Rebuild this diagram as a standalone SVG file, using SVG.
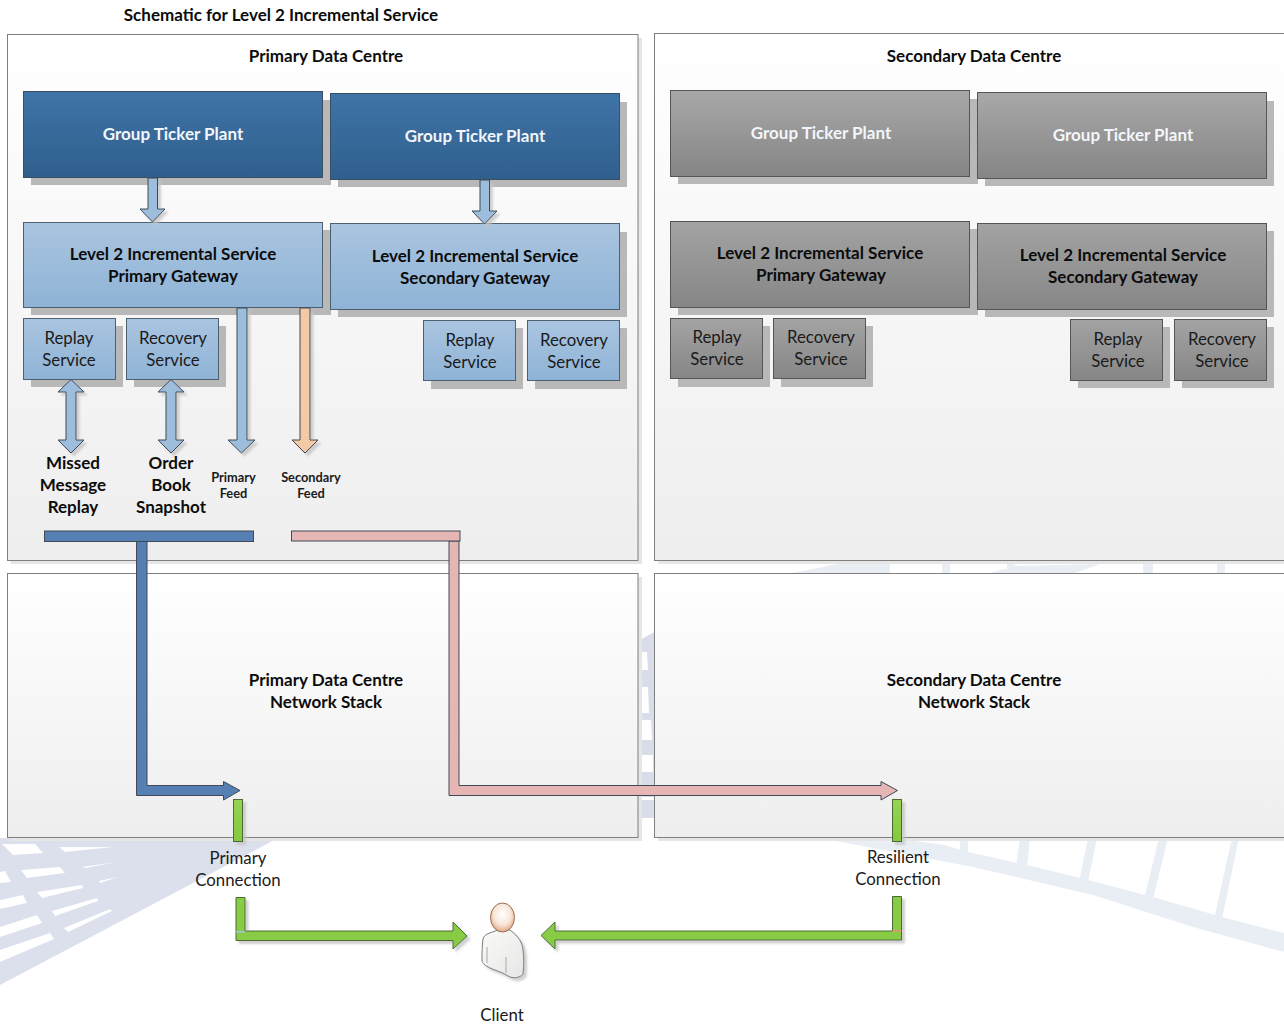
<svg xmlns="http://www.w3.org/2000/svg" width="1284" height="1025" viewBox="0 0 1284 1025">
<defs>
<linearGradient id="gDC" x1="0" y1="0" x2="0" y2="1"><stop offset="0" stop-color="#ffffff"/><stop offset="1" stop-color="#eeeeee"/></linearGradient>
<linearGradient id="gDark" x1="0" y1="0" x2="0" y2="1"><stop offset="0" stop-color="#3f74a8"/><stop offset="1" stop-color="#2f5f8c"/></linearGradient>
<linearGradient id="gLight" x1="0" y1="0" x2="0" y2="1"><stop offset="0" stop-color="#a9c5e0"/><stop offset="1" stop-color="#8fb3d6"/></linearGradient>
<linearGradient id="gGrey" x1="0" y1="0" x2="0" y2="1"><stop offset="0" stop-color="#a8a8a8"/><stop offset="1" stop-color="#858585"/></linearGradient>
<linearGradient id="gGrey2" x1="0" y1="0" x2="0" y2="1"><stop offset="0" stop-color="#a3a3a3"/><stop offset="1" stop-color="#868686"/></linearGradient>
<linearGradient id="gGreen" x1="0" y1="0" x2="0" y2="1"><stop offset="0" stop-color="#96d352"/><stop offset="1" stop-color="#84c93f"/></linearGradient>
<radialGradient id="gHead" cx=".5" cy=".4" r=".65"><stop offset="0" stop-color="#ffffff"/><stop offset=".55" stop-color="#f8e6d9"/><stop offset="1" stop-color="#dc9a70"/></radialGradient>
<linearGradient id="gBody" x1="0" y1="0" x2="1" y2="1"><stop offset="0" stop-color="#fafaf7"/><stop offset="1" stop-color="#e6e6e6"/></linearGradient>
<filter id="sh" x="-20%" y="-20%" width="140%" height="140%"><feDropShadow dx="3" dy="3" stdDeviation="1" flood-color="#c4c4c4" flood-opacity=".8"/></filter>
</defs>
<style>
text{font-family:"Lato","Liberation Sans",sans-serif;text-anchor:middle;font-size:16.800px;fill:#1a1a1a}
.b{font-weight:700;font-size:17px;fill:#0c0c0c}
.w{fill:#f2f6fa;font-weight:700;font-size:17px}
.sm{font-size:12.800px;font-weight:700}
.dc{fill:url(#gDC);stroke:#7f7f7f;stroke-width:1}
.dcs{fill:#e6e6e6}
.dark{fill:url(#gDark);stroke:#3c4f60;stroke-width:1}
.light{fill:url(#gLight);stroke:#4d6072;stroke-width:1}
.grey{fill:url(#gGrey);stroke:#555;stroke-width:1}
.grey2{fill:url(#gGrey2);stroke:#555;stroke-width:1}
.sh{fill:#b8b8b8}
.ar{stroke:#3f4a55;stroke-width:1}
.blue{fill:#9dbddc}.peach{fill:#f4caa6}.navy{fill:#5680b4}.pink{fill:#e6b6b4}
.green{fill:url(#gGreen);stroke:#4c6b35;stroke-width:1}
.greenf{fill:#88cc44;stroke:#4c6b35;stroke-width:1}
.bg{fill:#dcdfec}.bg2{fill:#e9eef5}.bg3{fill:#d8dde9}.win{fill:#fff}
</style>
<rect width="1284" height="1025" fill="#fff"/>
<g id="background">
<path class="bg" d="M0 838H278L0 985Z"/>
<path class="win" d="M2 844L35 844 43 853 13 855ZM59 847L113 847 65 852ZM21 870L60 867 65 873 27 878ZM82 867L117 862 86 868ZM0 872L5 871 11 882 0 883ZM37 892L82 885 83 888 42 898ZM99 881L118 877 100 883ZM0 900L23 895 27 903 0 909ZM52 911L97 898 98 901 55 916ZM0 927L37 915 42 923 0 937ZM64 928L110 909 112 911 68 932ZM0 950L50 933 54 939 0 962Z"/>
<path class="bg3" d="M640 640L654 632V818H640Z"/>
<path class="win" d="M640 652H647L648 670H640ZM640 687H648L649 713H640ZM640 720H651L652 740H640ZM640 755H653V772H640ZM640 800H654V797H640Z"/>
<path class="bg2" d="M792 573L853 561H890V573ZM882 561H890V573H882ZM942 561H950V573H942ZM1007 561H1015V573H1007ZM990 573L1015 566 1100 564 1075 573ZM1143 561H1153V573H1143ZM1217 561H1225V573H1217Z"/>
<path class="bg2" d="M820 838H893L945 845 968 852 1027 865 1088 880 1153 897 1222 917 1284 933V952L1193 927 1093 895 973 867Z"/>
<path class="bg2" d="M960 838H968L968 852H960ZM1020 838H1030L1027 866H1016ZM1088 838H1097L1088 882H1079ZM1159 838H1168L1153 899H1144ZM1232 838H1239L1222 919H1214Z"/>
</g>
<g id="primary-dc"><rect class="dcs" x="11" y="38" width="631" height="526"/><rect class="dc" x="7.500" y="34.500" width="630.500" height="526"/><text class="b" x="326" y="62">Primary Data Centre</text></g>
<g id="secondary-dc"><rect class="dcs" x="658" y="37" width="640" height="527"/><rect class="dc" x="654.500" y="33.500" width="640" height="527"/><text class="b" x="974" y="62">Secondary Data Centre</text></g>
<g id="primary-stack"><rect class="dcs" x="11" y="577" width="631" height="264"/><rect class="dc" x="7.500" y="573.500" width="630.500" height="264"/><text class="b" x="326" y="686">Primary Data Centre</text><text class="b" x="326" y="708">Network Stack</text></g>
<g id="secondary-stack"><rect class="dcs" x="658" y="577" width="640" height="264"/><rect class="dc" x="654.500" y="573.500" width="640" height="264"/><text class="b" x="974" y="686">Secondary Data Centre</text><text class="b" x="974" y="708">Network Stack</text></g>
<text id="title" class="b" x="281" y="21">Schematic for Level 2 Incremental Service</text>
<g id="gtp-1"><rect class="sh" x="31" y="100" width="300" height="85"/><rect class="dark" x="23.500" y="91.500" width="299" height="86"/><text class="w" x="173" y="140">Group Ticker Plant</text></g>
<g id="gtp-2"><rect class="sh" x="338" y="102" width="289" height="85"/><rect class="dark" x="330.500" y="93.500" width="289" height="86"/><text class="w" x="475" y="142">Group Ticker Plant</text></g>
<g id="gtp-3"><rect class="sh" x="678" y="99" width="300" height="85"/><rect class="grey" x="670.500" y="90.500" width="299" height="86"/><text class="w" x="821" y="139">Group Ticker Plant</text></g>
<g id="gtp-4"><rect class="sh" x="985" y="101" width="289" height="85"/><rect class="grey" x="977.500" y="92.500" width="289" height="86"/><text class="w" x="1123" y="141">Group Ticker Plant</text></g>
<g id="gw-1"><rect class="sh" x="31" y="230" width="300" height="85"/><rect class="light" x="23.500" y="222.500" width="299" height="85"/><text class="b" x="173" y="260">Level 2 Incremental Service</text><text class="b" x="173" y="282">Primary Gateway</text></g>
<g id="gw-2"><rect class="sh" x="338" y="232" width="289" height="85"/><rect class="light" x="330.500" y="223.500" width="289" height="86"/><text class="b" x="475" y="262">Level 2 Incremental Service</text><text class="b" x="475" y="284">Secondary Gateway</text></g>
<g id="gw-3"><rect class="sh" x="678" y="229" width="300" height="86"/><rect class="grey2" x="670.500" y="221.500" width="299" height="86"/><text class="b" x="820" y="259">Level 2 Incremental Service</text><text class="b" x="821" y="281">Primary Gateway</text></g>
<g id="gw-4"><rect class="sh" x="985" y="231" width="289" height="86"/><rect class="grey2" x="977.500" y="223.500" width="289" height="86"/><text class="b" x="1123" y="261">Level 2 Incremental Service</text><text class="b" x="1123" y="283">Secondary Gateway</text></g>
<g id="rep-1"><rect class="sh" x="31" y="326" width="92" height="61"/><rect class="light" x="23.500" y="318.500" width="92" height="61"/><text x="69" y="344">Replay</text><text x="69" y="366">Service</text></g>
<g id="rec-1"><rect class="sh" x="134" y="326" width="92" height="61"/><rect class="light" x="126.500" y="318.500" width="92" height="61"/><text x="173" y="344">Recovery</text><text x="173" y="366">Service</text></g>
<g id="rep-2"><rect class="sh" x="431" y="328" width="92" height="61"/><rect class="light" x="423.500" y="320.500" width="92" height="60"/><text x="470" y="346">Replay</text><text x="470" y="368">Service</text></g>
<g id="rec-2"><rect class="sh" x="535" y="328" width="92" height="61"/><rect class="light" x="527.500" y="320.500" width="92" height="60"/><text x="574" y="346">Recovery</text><text x="574" y="368">Service</text></g>
<g id="rep-3"><rect class="sh" x="678" y="326" width="92" height="61"/><rect class="grey2" x="670.500" y="318.500" width="92" height="60"/><text x="717" y="343">Replay</text><text x="717" y="365">Service</text></g>
<g id="rec-3"><rect class="sh" x="781" y="326" width="92" height="61"/><rect class="grey2" x="773.500" y="318.500" width="92" height="60"/><text x="821" y="343">Recovery</text><text x="821" y="365">Service</text></g>
<g id="rep-4"><rect class="sh" x="1078" y="327" width="92" height="61"/><rect class="grey2" x="1070.500" y="319.500" width="92" height="61"/><text x="1118" y="345">Replay</text><text x="1118" y="367">Service</text></g>
<g id="rec-4"><rect class="sh" x="1182" y="327" width="92" height="61"/><rect class="grey2" x="1174.500" y="319.500" width="92" height="61"/><text x="1222" y="345">Recovery</text><text x="1222" y="367">Service</text></g>
<g id="connectors">
<g filter="url(#sh)">
<path class="ar blue" d="M148 178H157.500V209H165L152.500 222 140 209H148Z"/>
<path class="ar blue" d="M480 180H489.500V211H497L484.500 224 472 211H480Z"/>
<path class="ar blue" d="M66 392H58L71 379.500 84 392H76V440H84L71 453 58 440H66Z"/>
<path class="ar blue" d="M166 392H158L171 379.500 184 392H176V440H184L171 453 158 440H166Z"/>
<path class="ar blue" d="M237 308H247V440H255L241.500 453 228 440H237Z"/>
<path class="ar peach" d="M300 308H310V440H318L305 453 292 440H300Z"/>
</g>
<path class="ar navy" d="M136.500 541H147V785.500H223.500V781.500L240 790.500 223.500 800V795.500H136.500Z"/>
<rect class="ar navy" x="44.500" y="531" width="209" height="10.500"/>
<path class="ar pink" d="M449 541H459V785.500H881V781.500L897.500 790.500 881 800V795.500H449Z"/>
<rect class="ar pink" x="291.500" y="531" width="168.500" height="10"/>
<g filter="url(#sh)">
<rect class="green" x="233.500" y="799.500" width="9" height="42"/>
<rect class="green" x="892.500" y="799.500" width="9" height="42"/>
<path class="greenf" d="M236 897.500H245V931H453V922L467 936 453 949V940.500H236Z"/>
<path class="greenf" d="M892.500 896.500H901.500V940H555V949L541 935.500 555 922V931H892.500Z"/>
</g>
<rect x="236" y="931" width="9" height="1.500" fill="#a3c4dc"/>
<rect x="892.500" y="930" width="9" height="1.500" fill="#f08a80"/>
</g>
<g id="labels">
<text class="b" x="73" y="469">Missed</text><text class="b" x="73" y="491">Message</text><text class="b" x="73" y="513">Replay</text>
<text class="b" x="171" y="469">Order</text><text class="b" x="171" y="491">Book</text><text class="b" x="171" y="513">Snapshot</text>
<text class="sm" x="233.500" y="482">Primary</text><text class="sm" x="233.500" y="498">Feed</text>
<text class="sm" x="311" y="482">Secondary</text><text class="sm" x="311" y="498">Feed</text>
<text x="238" y="864">Primary</text><text x="238" y="886">Connection</text>
<text x="898" y="863">Resilient</text><text x="898" y="885">Connection</text>
</g>
<g id="client">
<path d="M498 930C490 933 484 934 483 939 482 947 482 955 482 960 482 964 485 965 490 968 497 971 504 973 508 976 513 979 520 978 523 974 524 965 524 958 523 950 522 942 519 937 510 930Z" fill="url(#gBody)" stroke="#7c7c7c" filter="url(#sh)"/>
<path d="M487 947V963M506 957V973" fill="none" stroke="#a8a8a8"/>
<ellipse cx="502.500" cy="917.500" rx="12" ry="14.500" fill="url(#gHead)" stroke="#9a6c50"/>
<text x="502" y="1021">Client</text>
</g>
</svg>
